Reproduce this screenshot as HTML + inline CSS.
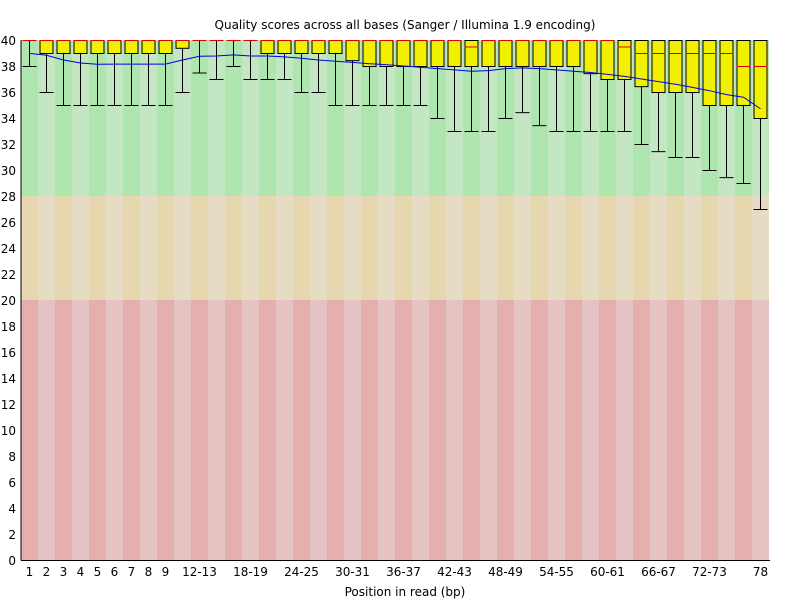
<!DOCTYPE html>
<html><head><meta charset="utf-8"><style>
html,body{margin:0;padding:0;background:#fff;width:800px;height:600px;overflow:hidden}
svg text{font-family:"DejaVu Sans","Liberation Sans",sans-serif;font-size:12px;fill:#000}
</style></head><body>
<svg id="s" width="800" height="600" xmlns="http://www.w3.org/2000/svg">
<text x="405" y="29" text-anchor="middle">Quality scores across all bases (Sanger / Illumina 1.9 encoding)</text>
<text x="405" y="596" text-anchor="middle">Position in read (bp)</text>
<g id="bg"></g><g id="bx"></g>
<polyline id="mean" fill="none" stroke="#0000e0" stroke-width="1"/>
<line x1="21" y1="40" x2="21" y2="560.5" stroke="#000"/>
<line x1="21" y1="560.5" x2="770" y2="560.5" stroke="#000"/>
<g id="lab"></g>
</svg>
<script>
var X0=21,W=17,N=44;
function Y(v){return 40+(40-v)*13;}
var ns="http://www.w3.org/2000/svg";
function el(p,t,a,txt){var e=document.createElementNS(ns,t);for(var k in a)e.setAttribute(k,a[k]);if(txt!=null)e.textContent=txt;document.getElementById(p).appendChild(e);return e;}
for(var i=0;i<N;i++){var x=X0+i*W,d=i%2==0;
el("bg","rect",{x:x,y:40,width:W,height:156,fill:d?"#afe6af":"#c3e6c3"});
el("bg","rect",{x:x,y:196,width:W,height:104,fill:d?"#e6d7af":"#e6dcc3"});
el("bg","rect",{x:x,y:300,width:W,height:260,fill:d?"#e6afaf":"#e6c3c3"});}
// [q3top, q1, median, whiskerLow]
var D=[[40,40,40,38],[40,39,40,36],[40,39,40,35],[40,39,40,35],[40,39,40,35],[40,39,40,35],[40,39,40,35],[40,39,40,35],[40,39,40,35],[40,39.4,40,36],
[40,40,40,37.5],[40,40,40,37],[40,40,40,38],[40,40,40,37],[40,39,40,37],[40,39,40,37],[40,39,40,36],[40,39,40,36],[40,39,40,35],[40,38.45,40,35],
[40,38,40,35],[40,38,40,35],[40,38,40,35],[40,38,40,35],[40,38,40,34],[40,38,40,33],[40,38,39.5,33],[40,38,40,33],[40,38,40,34],[40,38,40,34.45],
[40,38,40,33.45],[40,38,40,33],[40,38,40,33],[40,37.45,40,33],[40,37,40,33],[40,37,39.5,33],[40,36.45,39,32],[40,36,39,31.45],[40,36,39,31],[40,36,39,31],
[40,35,39,30],[40,35,39,29.45],[40,35,38,29],[40,34,38,27]];
var M=[38.97,38.82,38.46,38.23,38.13,38.15,38.15,38.15,38.15,38.46,38.75,38.77,38.85,38.77,38.77,38.7,38.6,38.46,38.36,38.28,38.18,38.1,38.0,37.9,37.8,37.7,37.6,37.65,37.8,37.85,37.8,37.7,37.6,37.5,37.35,37.2,37.0,36.8,36.6,36.35,36.1,35.8,35.6,34.7];
var pts=[];
for(var i=0;i<N;i++){var c=X0+i*W+W/2,d=D[i],l=c-7,r=c+7;
 el("bx","line",{x1:c,y1:Y(d[1]),x2:c,y2:Y(d[3]),stroke:"#000"});
 el("bx","line",{x1:l,y1:Y(d[3])+.5,x2:r,y2:Y(d[3])+.5,stroke:"#000"});
 if(d[1]<d[0]) el("bx","rect",{x:l+.5,y:Y(d[0])+.5,width:13,height:Y(d[1])-Y(d[0]),fill:"#f0f000",stroke:"#000"});
 el("bx","line",{x1:l,y1:Y(d[2])+.5,x2:r,y2:Y(d[2])+.5,stroke:"#e00000"});
 pts.push(c+","+Y(M[i]).toFixed(1));}
document.getElementById("mean").setAttribute("points",pts.join(" "));
for(var v=0;v<=40;v+=2) el("lab","text",{x:16,y:Y(v)+5,"text-anchor":"end"},String(v));
var xl={0:"1",1:"2",2:"3",3:"4",4:"5",5:"6",6:"7",7:"8",8:"9"};
for(var k=0;k<12;k++){var ci=10+3*k,a=2*ci-8;xl[ci]=a+"-"+(a+1);}
xl[43]="78";
for(var k in xl) el("lab","text",{x:X0+k*W+W/2,y:576,"text-anchor":"middle"},xl[k]);
</script>
</body></html>
